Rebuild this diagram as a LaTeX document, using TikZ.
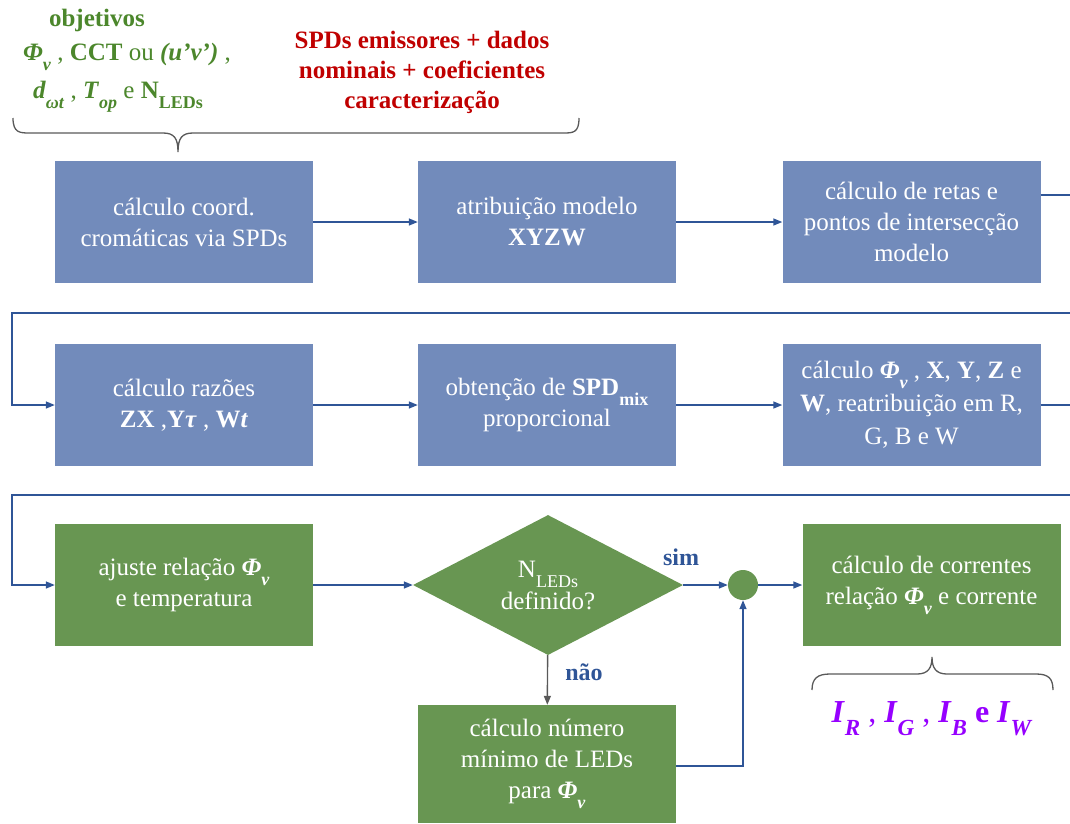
\documentclass[tikz,border=0pt]{standalone}
\usepackage{fontspec}
\setmainfont{Liberation Serif}
\usetikzlibrary{arrows.meta,shapes.geometric,calc}
\definecolor{boxblue}{RGB}{114,139,187}
\definecolor{boxgreen}{RGB}{104,150,82}
\definecolor{lineblue}{RGB}{47,85,151}
\definecolor{linegray}{RGB}{89,89,89}
\definecolor{txtgreen}{RGB}{76,135,44}
\definecolor{txtred}{RGB}{192,0,0}
\definecolor{txtpurple}{RGB}{150,0,255}
\newcommand\bi[1]{\textbf{\textit{#1}}}
\newcommand\lo[1]{\raisebox{-0.4em}{\scalebox{0.72}{#1}}}
\tikzset{
  proc/.style={rectangle, minimum width=258pt, minimum height=122pt, inner sep=0pt,
    text=white, align=center, font=\fontsize{25}{31}\selectfont},
  bluebox/.style={proc, fill=boxblue},
  greenbox/.style={proc, fill=boxgreen},
  conn/.style={draw=lineblue, line width=1.4pt, -{Triangle[length=9pt,width=7pt]}},
  conngray/.style={draw=linegray, line width=1.4pt, -{Triangle[length=9pt,width=7pt]}},
  brace/.style={draw=linegray, line width=1.3pt},
  toplabel/.style={inner sep=0pt, font=\fontsize{25}{30}\selectfont, align=center},
  yesno/.style={inner sep=0pt, text=lineblue, font=\fontsize{24}{28}\selectfont\bfseries},
}
\begin{document}
\begin{tikzpicture}[x=1pt,y=-1pt]
\useasboundingbox (0,0) rectangle (1070,823);
\clip (0,0) rectangle (1070,823);
% top labels
\node[toplabel, text=txtgreen] (obj1) at (97,20) {\textbf{objetivos}};
\node[toplabel, text=txtgreen] (obj2) at (127,57) {\bi{Φ}\lo{\bi{v}} , \textbf{CCT} ou \bi{(u’v’)} ,};
\node[toplabel, text=txtgreen] (obj3) at (118,97) {\bi{d}\lo{\bi{ωt}} , \bi{T}\lo{\bi{op}} e \textbf{N}\lo{\textbf{LEDs}}};
\node[toplabel, text=txtred, font=\fontsize{25}{30}\selectfont\bfseries] (spd) at (422,72) {SPDs emissores + dados\\nominais + coeficientes\\caracterização};
% top brace
\draw[brace] (13,118) .. controls (13,133) and (20,133) .. (30,133) -- (163,133)
  .. controls (174,133) and (178,138) .. (178,152)
  .. controls (178,138) and (182,133) .. (193,133) -- (563,133)
  .. controls (573,133) and (579,133) .. (579,118);
% row 1
\node[bluebox] (b1) at (184,222) {cálculo coord.\\cromáticas via SPDs};
\node[bluebox] (b2) at (547,222) {atribuição modelo\\\textbf{XYZW}};
\node[bluebox] (b3) at (911.5,222) {cálculo de retas e\\pontos de intersecção\\modelo};
% row 2
\node[bluebox] (b4) at (184,405) {cálculo razões\\\textbf{ZX} ,\textbf{Y}\bi{τ} , \textbf{W}\bi{t}};
\node[bluebox] (b5) at (547,405) {obtenção de \textbf{SPD}\lo{\textbf{mix}}\\proporcional};
\node[bluebox, font=\fontsize{25}{33}\selectfont] (b6) at (911.5,405) {cálculo \bi{Φ}\lo{\bi{v}} , \textbf{X}, \textbf{Y}, \textbf{Z} e\\\textbf{W}, reatribuição em R,\\G, B e W};
% row 3
\node[greenbox] (b7) at (184,585) {ajuste relação \bi{Φ}\lo{\bi{v}}\\e temperatura};
\node[diamond, fill=boxgreen, minimum width=270pt, minimum height=140pt, inner sep=0pt,
  aspect=1.93, text=white, align=center, font=\fontsize{25}{32}\selectfont] (d) at (548,585)
  {N\lo{LEDs}\\definido?};
\node[circle, fill=boxgreen, minimum size=30pt, inner sep=0pt] (c) at (743,585) {};
\node[greenbox] (b8) at (931.5,585) {cálculo de correntes\\relação \bi{Φ}\lo{\bi{v}} e corrente};
\node[greenbox, minimum height=118pt] (b9) at (547,764) {cálculo número\\mínimo de LEDs\\para \bi{Φ}\lo{\bi{v}}};
% labels
\node[yesno] (sim) at (681,557) {sim};
\node[yesno] (nao) at (584,672) {não};
% connectors
\draw[conn] (b1) -- (b2);
\draw[conn] (b2) -- (b3);
\draw[conn] ($(b3.north east)+(0,34)$) -- ++(45,0) |- (12,313) |- (b4.west);
\draw[conn] (b4) -- (b5);
\draw[conn] (b5) -- (b6);
\draw[conn] (b6.east) -- ++(45,0) |- (12,495) |- (b7.west);
\draw[conn] (b7) -- (d);
\draw[conn] (d) -- (c);
\draw[conn] (c) -- (b8);
\draw[conngray] (d) -- (b9);
\draw[conn] ($(b9.east)+(0,2)$) -| (c.south);
% bottom brace
\draw[brace] (812,690) .. controls (812,678) and (818,674) .. (830,674) -- (917,674)
  .. controls (928,674) and (932,668) .. (932,657)
  .. controls (932,668) and (936,674) .. (947,674) -- (1036,674)
  .. controls (1048,674) and (1053,678) .. (1053,690);
\node[inner sep=0pt, text=txtpurple, font=\fontsize{32}{36}\selectfont] (cur) at (932,719)
  {\bi{I}\lo{\bi{R}} , \bi{I}\lo{\bi{G}} , \bi{I}\lo{\bi{B}} \textbf{e} \bi{I}\lo{\bi{W}}};
\end{tikzpicture}
\end{document}
